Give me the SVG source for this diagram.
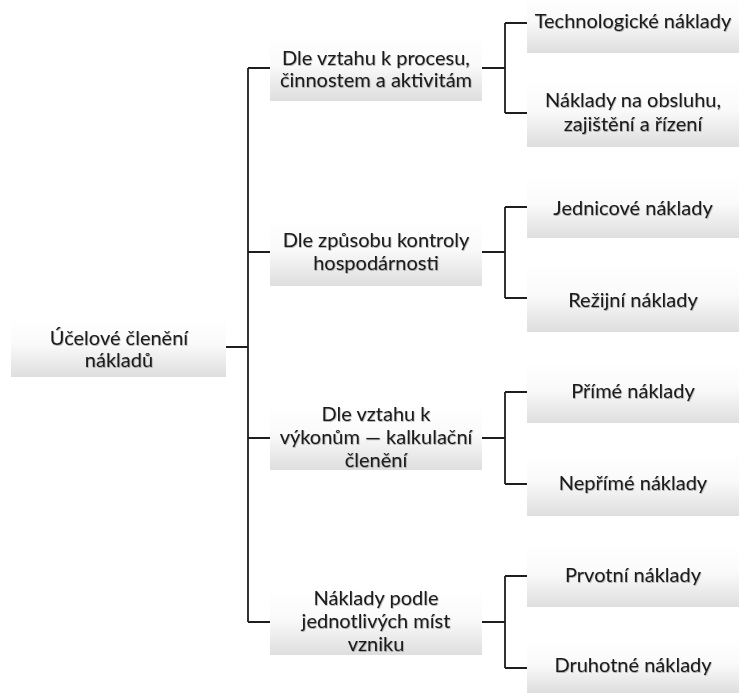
<svg xmlns="http://www.w3.org/2000/svg" width="739" height="693" viewBox="0 0 739 693">
<defs>
<linearGradient id="g" x1="0" y1="0" x2="0" y2="1">
<stop offset="0" stop-color="#ffffff"/>
<stop offset="0.45" stop-color="#fafafa"/>
<stop offset="1" stop-color="#dedede"/>
</linearGradient>
<filter id="sh" x="-5%" y="-20%" width="110%" height="140%">
<feDropShadow dx="0.6" dy="0.8" stdDeviation="0.7" flood-color="#000" flood-opacity="0.35"/>
</filter>
</defs>
<style>
.box{fill:url(#g);}
text{font-family:Lato,"Liberation Sans",sans-serif;font-size:20px;fill:#1a1a1a;text-anchor:middle;filter:url(#sh);}
.c{fill:none;stroke:#1e1e1e;stroke-width:1.8;}
</style>
<rect width="739" height="693" fill="#ffffff"/>
<g id="connectors">
<path class="c" d="M226 347H248M248 68V622M248 68H270M248 252H270M248 438H270M248 622H270"/>
<path class="c" d="M482 68H505M505 23V113M505 23H527M505 113H527"/>
<path class="c" d="M482 252H505M505 207V298M505 207H527M505 298H527"/>
<path class="c" d="M482 438H505M505 392V484M505 392H527M505 484H527"/>
<path class="c" d="M482 622H505M505 576V668M505 576H527M505 668H527"/>
</g>
<g id="root">
<rect class="box" x="11" y="317" width="215" height="60"/>
<text x="119" y="345">Účelové členění</text>
<text x="119" y="367">nákladů</text>
</g>
<g id="m1">
<rect class="box" x="270" y="35" width="212" height="66"/>
<text x="376" y="65">Dle vztahu k procesu,</text>
<text x="376" y="87">činnostem a aktivitám</text>
</g>
<g id="m2">
<rect class="box" x="270" y="219" width="212" height="67"/>
<text x="376" y="247">Dle způsobu kontroly</text>
<text x="376" y="270">hospodárnosti</text>
</g>
<g id="m3">
<rect class="box" x="270" y="405" width="212" height="65"/>
<text x="376" y="421">Dle vztahu k</text>
<text x="376" y="444">výkonům — kalkulační</text>
<text x="376" y="467">členění</text>
</g>
<g id="m4">
<rect class="box" x="270" y="589" width="212" height="66"/>
<text x="376" y="605">Náklady podle</text>
<text x="376" y="628">jednotlivých míst</text>
<text x="376" y="651">vzniku</text>
</g>
<g id="l1">
<rect class="box" x="527" y="-7" width="212" height="60"/>
<text x="633" y="28">Technologické náklady</text>
</g>
<g id="l2">
<rect class="box" x="527" y="79" width="212" height="68"/>
<text x="633" y="107">Náklady na obsluhu,</text>
<text x="633" y="131">zajištění a řízení</text>
</g>
<g id="l3">
<rect class="box" x="527" y="176" width="212" height="62"/>
<text x="633" y="215">Jednicové náklady</text>
</g>
<g id="l4">
<rect class="box" x="527" y="264" width="212" height="68"/>
<text x="633" y="307">Režijní náklady</text>
</g>
<g id="l5">
<rect class="box" x="527" y="361" width="212" height="62"/>
<text x="633" y="398">Přímé náklady</text>
</g>
<g id="l6">
<rect class="box" x="527" y="452" width="212" height="64"/>
<text x="633" y="490">Nepřímé náklady</text>
</g>
<g id="l7">
<rect class="box" x="527" y="545" width="212" height="62"/>
<text x="633" y="582">Prvotní náklady</text>
</g>
<g id="l8">
<rect class="box" x="527" y="640" width="212" height="53"/>
<text x="633" y="672">Druhotné náklady</text>
</g>
</svg>
